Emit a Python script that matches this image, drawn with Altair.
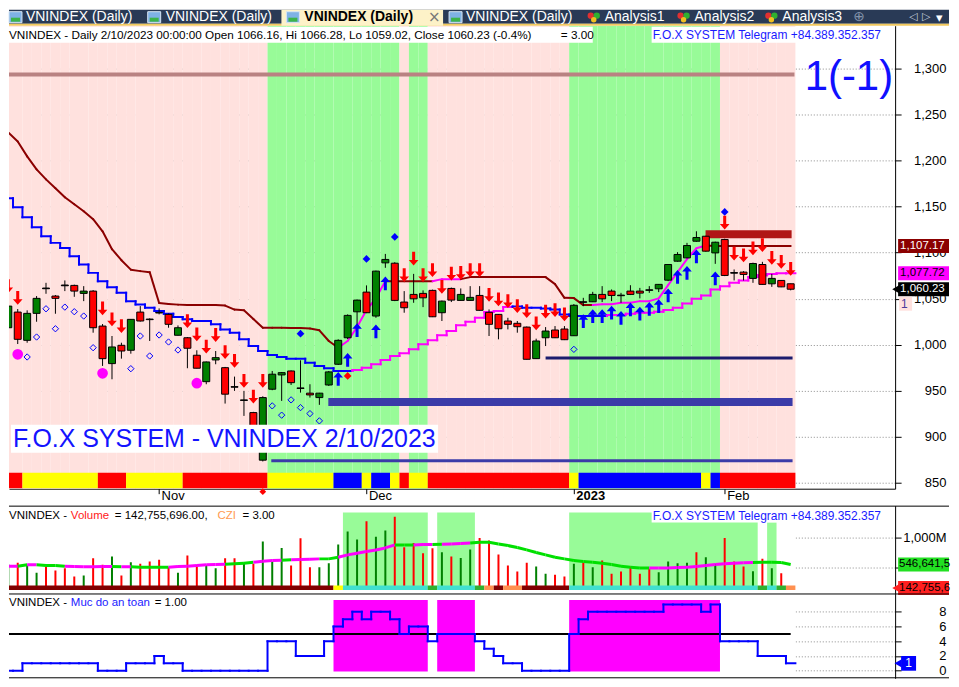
import altair as alt
import pandas as pd

# ------------------------------------------------------------------
# DATA  (VNINDEX daily, 84 sessions: 2022-10-10 ... 2023-02-10)
# ------------------------------------------------------------------
N = 84
bar_index = list(range(N))

price_open = [1018.4, 1035.4, 1004.7, 1034.0, 1061.5, 1052.8, 1064.8, 1064.4, 1055.7, 1058.2,
              1020.2, 979.4, 999.3, 993.9, 1035.4, 1027.8, 1035.0, 1032.9, 1010.2, 1007.5,
              988.5, 959.8, 983.4, 975.0, 954.4, 940.0, 926.2, 874.5, 951.6, 967.1,
              971.4, 953.0, 947.3, 942.5, 956.2, 978.7, 1007.5, 1035.7, 1057.1, 1031.1,
              1088.9, 1088.5, 1046.3, 1054.6, 1055.7, 1059.0, 1034.7, 1061.1, 1048.1, 1048.1,
              1053.5, 1035.1, 1032.9, 1025.7, 1023.2, 1019.1, 984.8, 1007.5, 1015.9, 1017.0,
              1009.7, 1046.6, 1046.6, 1054.6, 1058.2, 1053.8, 1058.2, 1058.2, 1059.6, 1060.7,
              1070.1, 1090.7, 1094.3, 1112.4, 1117.8, 1099.7, 1114.2, 1078.3, 1078.8, 1072.0,
              1087.1, 1066.1, 1069.8, 1066.16]
price_high = [1049.2, 1038.7, 1037.3, 1052.8, 1067.2, 1053.9, 1069.8, 1065.2, 1063.6, 1059.3,
              1022.4, 1009.4, 1002.1, 1027.8, 1041.9, 1028.6, 1039.4, 1033.8, 1020.9, 1008.3,
              993.9, 981.7, 993.1, 975.8, 965.3, 949.8, 927.0, 943.9, 971.4, 970.3,
              972.0, 983.0, 957.0, 947.6, 971.4, 1005.8, 1032.9, 1049.0, 1064.4, 1080.4,
              1098.6, 1089.6, 1058.2, 1076.9, 1059.0, 1059.8, 1047.9, 1062.0, 1061.1, 1063.6,
              1063.6, 1038.3, 1033.2, 1029.2, 1025.7, 1019.7, 1006.5, 1019.1, 1020.2, 1020.2,
              1044.1, 1050.9, 1057.4, 1063.6, 1060.0, 1056.3, 1064.6, 1061.7, 1063.6, 1065.8,
              1087.5, 1100.5, 1110.6, 1123.2, 1118.4, 1111.9, 1115.1, 1081.7, 1079.9, 1089.1,
              1090.0, 1076.9, 1070.1, 1066.28]
price_low = [1013.0, 1000.7, 1002.1, 1024.9, 1055.3, 1033.6, 1058.2, 1052.0, 1047.3, 1013.0,
             976.9, 962.4, 984.8, 990.2, 1025.1, 1004.0, 1032.9, 1018.4, 1010.0, 974.4,
             974.2, 957.0, 978.7, 936.0, 949.8, 922.6, 905.0, 873.1, 950.5, 938.9,
             956.2, 947.9, 942.5, 934.6, 955.1, 977.9, 1006.1, 1021.3, 1034.3, 1029.2,
             1083.5, 1047.3, 1034.7, 1045.5, 1040.8, 1030.0, 1025.7, 1046.3, 1047.9, 1047.9,
             1037.0, 1009.4, 1005.8, 1016.6, 1013.0, 983.9, 984.4, 998.5, 1007.2, 1005.0,
             1009.4, 1041.9, 1046.3, 1046.3, 1047.3, 1045.5, 1053.9, 1050.3, 1056.3, 1057.1,
             1069.0, 1090.2, 1094.0, 1111.9, 1101.0, 1087.8, 1074.5, 1069.8, 1069.8, 1067.2,
             1065.2, 1062.8, 1062.5, 1059.02]
price_close = [1041.9, 1005.8, 1034.0, 1050.3, 1060.8, 1050.3, 1064.0, 1058.2, 1058.2, 1018.4,
               984.8, 997.5, 993.1, 1027.5, 1025.7, 1027.2, 1034.4, 1022.1, 1018.4, 996.1,
               974.4, 981.2, 985.9, 946.2, 953.8, 939.4, 911.9, 942.5, 967.9, 969.6,
               958.7, 952.4, 945.4, 947.3, 970.4, 1004.7, 1031.8, 1048.4, 1034.7, 1079.9,
               1092.6, 1048.1, 1040.1, 1049.8, 1050.9, 1030.3, 1047.3, 1048.4, 1054.6, 1051.4,
               1037.3, 1022.1, 1017.3, 1022.1, 1019.5, 984.1, 1004.0, 1014.8, 1007.5, 1005.4,
               1042.8, 1046.0, 1054.6, 1049.8, 1053.5, 1053.2, 1054.6, 1056.0, 1059.0, 1065.5,
               1087.1, 1098.0, 1107.7, 1116.4, 1101.6, 1111.3, 1075.2, 1077.7, 1076.3, 1088.2,
               1065.5, 1072.0, 1062.8, 1060.23]

month_ticks = [16, 38, 60, 76]
month_labels = ["Nov", "Dec", "2023", "Feb"]

trend_up_zones = [(28, 41), (43, 44), (60, 75)]
signal_runs = [("R", 0, 1), ("Y", 2, 9), ("R", 10, 12), ("Y", 13, 18), ("R", 19, 27),
               ("Y", 28, 34), ("B", 35, 37), ("Y", 38, 38), ("B", 39, 40), ("Y", 41, 41),
               ("R", 42, 42), ("Y", 43, 44), ("R", 45, 59), ("Y", 60, 60), ("B", 61, 73),
               ("Y", 74, 74), ("B", 75, 75), ("R", 76, 83)]

upper_stop = [1230.6, 1220.8, 1204.6, 1190.5, 1179.6, 1169.9, 1160.1, 1152.5, 1144.9, 1136.3,
              1123.2, 1103.7, 1091.8, 1081.5, 1079.9, 1078.8, 1045.2, 1044.1, 1043.5, 1043.0,
              1043.0, 1043.0, 1043.0, 1042.5, 1038.1, 1037.3, 1027.8, 1018.4, 1018.4, 1018.4,
              1018.1, 1018.1, 1017.5, 1015.6, 1004.0, 996.7, 1004.0, 1019.1, 1037.6, 1050.6,
              1069.0, 1069.0, 1069.0, 1069.0, 1069.0, 1069.0, 1071.2, 1071.2, 1071.2, 1073.4,
              1073.4, 1073.4, 1073.4, 1073.4, 1073.4, 1073.4, 1073.4, 1073.4, 1065.8, 1050.9,
              1050.6, 1043.0, 1043.0, 1043.8, 1043.8, 1045.5, 1045.5, 1047.3, 1047.3, 1050.3,
              1064.7, 1078.8, 1092.9, 1104.8, 1107.7, 1107.17, 1107.17, 1107.17, 1107.17, 1107.17,
              1107.17, 1107.17, 1107.17, 1107.17]
upper_up_zones = [(36, 40), (46, 48), (63, 74)]

lower_stop = [1159.0, 1149.3, 1138.4, 1127.6, 1117.8, 1110.6, 1105.1, 1096.1, 1087.1, 1078.0,
              1069.0, 1062.5, 1056.3, 1047.3, 1043.7, 1040.1, 1036.5, 1033.6, 1030.0, 1027.5,
              1025.7, 1025.7, 1022.1, 1016.6, 1013.0, 1005.8, 998.5, 993.1, 988.8, 986.6,
              984.8, 984.8, 980.4, 976.9, 974.4, 971.4, 971.4, 972.5, 975.0, 978.7,
              983.4, 987.7, 990.6, 995.0, 1000.4, 1004.7, 1010.2, 1014.8, 1021.0, 1024.9,
              1029.2, 1035.4, 1036.5, 1040.8, 1041.6, 1040.1, 1040.1, 1039.4, 1038.3, 1032.9,
              1031.1, 1031.1, 1031.1, 1031.1, 1032.2, 1032.2, 1033.6, 1034.7, 1034.7, 1035.8,
              1037.6, 1040.1, 1044.8, 1049.8, 1053.5, 1060.0, 1063.6, 1067.2, 1069.8, 1073.4,
              1075.5, 1076.9, 1077.7, 1077.72]
lower_up_zones = [(37, 53), (64, 83)]

levels = [1293.5, 985.5, 937.8, 873.8]
level_start = [-0.25, 57.0, 33.95, 27.9]
level_end = [83.4, 83.2, 83.2, 83.2]
resist_zone = [1115.6, 1124.3, 73.97, 83.1]

sell_bars = [0, 1, 10, 11, 12, 19, 20, 21, 22, 23, 24, 25, 26, 27,
             42, 43, 44, 45, 46, 47, 48, 49, 50, 51, 52, 53, 54, 55, 56, 57, 58, 59,
             76, 77, 78, 79, 80, 81, 82, 83]
sell_vals = [1063.6, 1050.9, 1039.4, 1027.5, 1020.2, 1025.7, 1011.2, 997.8, 1010.5, 992.0,
             982.3, 960.6, 943.6, 960.6,
             1075.5, 1093.6, 1075.5, 1080.9, 1062.8, 1077.3, 1078.0, 1080.9, 1080.9, 1054.2,
             1049.2, 1047.3, 1041.9, 1036.5, 1023.2, 1035.8, 1037.6, 1032.9,
             1132.7, 1099.0, 1096.9, 1104.5, 1108.1, 1094.3, 1090.0, 1082.4]
buy_bars = [35, 36, 37, 39, 40, 61, 62, 63, 64, 65, 66, 67, 68, 69, 70, 71, 72, 73, 75]
buy_vals = [962.8, 983.4, 1015.9, 1014.5, 1066.5, 1025.7, 1031.1, 1031.1, 1034.7, 1029.2,
            1038.3, 1033.6, 1039.0, 1041.9, 1053.5, 1073.7, 1078.0, 1095.8, 1071.9]
dot_bars = [1, 10, 20]
dot_vals = [989.5, 968.9, 958.1]
hollow_bars = [2, 3, 4, 5, 6, 7, 8, 9, 13, 14, 15, 16, 17, 18, 28, 29, 30, 31, 32, 33, 60]
hollow_vals = [986.6, 1008.3, 1039.0, 1017.3, 1040.8, 1035.8, 1031.1, 996.7, 973.9, 1009.4,
               987.7, 1010.5, 1002.9, 994.2, 933.5, 923.4, 940.0, 931.6, 925.1, 917.2, 994.9]
bdiam_bars = [31, 38, 41, 76]
bdiam_vals = [1011.9, 1093.2, 1117.1, 1144.2]
rdiam_bars = [36]
rdiam_vals = [966.0]

last_values = [1107.17, 1077.72, 1060.23]

volume_m = [545, 574, 540, 403, 511, 443, 483, 341, 358, 653,
            540, 681, 358, 585, 557, 596, 625, 500, 403, 699,
            540, 540, 483, 653, 653, 574, 557, 937, 596, 829,
            528, 994, 500, 500, 568, 886, 1108, 971, 1284, 1022,
            1125, 1363, 840, 914, 738, 824, 756, 681, 659, 801,
            999, 954, 716, 528, 426, 574, 511, 386, 369, 341,
            557, 574, 500, 613, 386, 426, 511, 386, 472, 415,
            596, 568, 574, 756, 670, 560, 999, 596, 511, 432,
            642, 483, 397, 142.76]
volume_up = [1, 0, 1, 1, 0, 0, 0, 0, 1, 0,
             0, 1, 0, 1, 0, 0, 0, 0, 1, 0,
             0, 1, 1, 0, 0, 1, 0, 1, 1, 1,
             0, 0, 0, 1, 1, 1, 1, 1, 0, 1,
             1, 0, 0, 0, 0, 0, 1, 0, 1, 1,
             0, 0, 0, 0, 0, 0, 1, 1, 0, 0,
             1, 0, 1, 0, 0, 0, 0, 0, 0, 1,
             1, 1, 1, 0, 1, 1, 0, 0, 0, 1,
             0, 1, 0, 0]
volume_ma = [517, 517, 540, 540, 528, 528, 517, 511, 506, 506,
             511, 511, 506, 506, 500, 500, 500, 500, 511, 517,
             528, 540, 545, 551, 557, 568, 585, 602, 613, 619,
             625, 630, 636, 642, 642, 670, 710, 738, 767, 795,
             829, 880, 880, 880, 886, 886, 892, 897, 903, 914,
             925, 925, 897, 869, 835, 795, 750, 710, 670, 642,
             613, 596, 585, 568, 545, 517, 500, 488, 488, 488,
             488, 494, 500, 511, 528, 545, 557, 568, 574, 579,
             585, 585, 579, 546.64]
ma_green_runs = [(2, 2), (4, 6), (12, 12), (14, 17), (24, 26), (30, 30), (34, 35),
                 (42, 43), (46, 46), (50, 68), (80, 83)]
vol_strip_runs = [("D", 0, 34), ("Y", 35, 35), ("C", 36, 44), ("G", 45, 45), ("C", 46, 49),
                  ("G", 50, 50), ("O", 51, 51), ("D", 52, 52), ("O", 53, 54), ("D", 55, 59),
                  ("C", 60, 79), ("G", 80, 80), ("C", 81, 81), ("G", 82, 82), ("O", 83, 83)]
vol_zones = [(36, 44), (46, 49), (60, 79), (81, 81)]
vol_zone_top = [1436, 1436, 1436, 1266]
vol_labels = ["546,641,5", "142,755,6"]
vol_label_vals = [546.64, 142.76]

safety = [0, 0, 1, 1, 1, 1, 1, 1, 1, 1,
          0, 0, 0, 1, 1, 1, 2, 1, 1, 0,
          0, 0, 0, 0, 0, 0, 0, 0, 4, 4,
          4, 2, 2, 2, 4, 6, 7, 8, 7, 8,
          8, 7, 5, 6, 6, 4, 5, 5, 5, 5,
          4, 3, 2, 1, 1, 0, 0, 0, 0, 0,
          5, 7, 8, 8, 8, 8, 8, 8, 8, 8,
          9, 9, 9, 9, 8, 9, 4, 4, 4, 4,
          2, 2, 2, 1]
safety_zones = [(35, 44), (46, 49), (60, 75)]
safety_ref = 5

# ------------------------------------------------------------------
# STYLE / LAYOUT
# ------------------------------------------------------------------
FONT = "Liberation Sans"
W = 888
H_TAB, H_PRICE, H_DATE, H_VOL, H_SAFE = 16, 464, 17, 88, 85
RIGHT = 942
C_PINK, C_GREEN = "#ffe1de", "#98fb98"
MAROON, MAGENTA, BLUE, RED, DGREEN = "#8b0000", "#ff00ff", "#0000ff", "#ff0000", "#008000"
level_colors = ["#b98282", "#1c1c6e", "#3b3ba8", "#3b3ba8"]
level_widths = [4, 3, 8, 3]
PANE_FS = 11.5

DOWN = "M-0.22,-1L0.22,-1L0.22,0.2L0.7,0.2L0,1L-0.7,0.2L-0.22,0.2Z"
UP = "M-0.22,1L0.22,1L0.22,-0.2L0.7,-0.2L0,-1L-0.7,-0.2L-0.22,-0.2Z"


def flags(zones, n):
    f = [False] * n
    for a, b in zones:
        for k in range(a, b + 1):
            f[k] = True
    return f


one = pd.DataFrame({"k": [0]})


def txt(text, x, y, size=12, color="black", weight="normal", align="left",
        baseline="middle", font=FONT):
    return alt.Chart(one).mark_text(text=text, align=align, baseline=baseline, fontSize=size,
                                    color=color, fontWeight=weight, font=font).encode(
        x=alt.value(x), y=alt.value(y))


def box(x0, x1, y0, y1, fill, stroke=None):
    kw = dict(fill=fill)
    if stroke:
        kw.update(stroke=stroke, strokeWidth=1)
    return alt.Chart(one).mark_rect(**kw).encode(
        x=alt.value(x0), x2=alt.value(x1), y=alt.value(y0), y2=alt.value(y1))


def hline(y, x0=0, x1=RIGHT, color="black", width=1):
    return alt.Chart(one).mark_rule(color=color, strokeWidth=width).encode(
        x=alt.value(x0), x2=alt.value(x1), y=alt.value(y))


xs = alt.Scale(domain=[0.074, 94.08], nice=False, zero=False)
lab_expr = " : ".join(f"datum.value == {t} ? '{l}'" for t, l in zip(month_ticks, month_labels)) + " : ''"
xaxis_p = alt.Axis(values=month_ticks, labelExpr=lab_expr, title=None, orient="bottom", grid=False,
                   domain=True, domainColor="black", ticks=True, tickSize=5, tickColor="black",
                   labelPadding=-4, labelAlign="left", labelBaseline="top", labelOffset=2,
                   labelFontSize=13, labelColor="black", labelFont=FONT, labelFlush=False,
                   labelOverlap=False,
                   labelFontWeight={"condition": {"test": "datum.value == 60", "value": "bold"},
                                    "value": "normal"})


def right_axis(values, **kw):
    return alt.Axis(orient="right", values=values, title=None, tickSize=6, labelPadding=45,
                    labelAlign="right", labelBaseline="middle", grid=True, gridDash=[1, 2],
                    gridColor="#8c8c8c", domain=True, domainColor="black", tickColor="black",
                    labelColor="black", labelFont=FONT, labelFontSize=13, labelFlush=False, **kw)


ys_p = alt.Scale(domain=[843.5, 1346.6], nice=False, zero=False)
yaxis_p = right_axis(list(range(850, 1301, 50)), format=",d")


def PX(f):
    return alt.X(f"{f}:Q", scale=xs, axis=xaxis_p)


def PY(f):
    return alt.Y(f"{f}:Q", scale=ys_p, axis=yaxis_p)


# ------------------------------------------------------------------
# PRICE PANE
# ------------------------------------------------------------------
P = []
bg_df = pd.DataFrame({"i": bar_index, "up": flags(trend_up_zones, N)})
P.append(alt.Chart(bg_df).transform_calculate(
    x0="datum.i - 0.5", x1="datum.i + 0.5",
    col=f"datum.up ? '{C_GREEN}' : '{C_PINK}'").mark_rect(clip=True).encode(
    x=PX("x0"), x2="x1:Q", y=alt.value(0), y2=alt.value(H_PRICE),
    color=alt.Color("col:N", scale=None)))

sig_df = pd.DataFrame(signal_runs, columns=["code", "a", "b"])
P.append(alt.Chart(sig_df).transform_calculate(
    x0="datum.a - 0.5", x1="datum.b + 0.5",
    col="datum.code == 'R' ? '#ff0000' : (datum.code == 'Y' ? '#ffff00' : '#0000ff')"
).mark_rect(clip=True).encode(
    x=PX("x0"), x2="x1:Q", y=alt.value(448), y2=alt.value(463.5),
    color=alt.Color("col:N", scale=None)))

for v, a, b, c, w in zip(levels, level_start, level_end, level_colors, level_widths):
    P.append(alt.Chart(pd.DataFrame({"v": [v], "a": [a], "b": [b]})).mark_rule(
        color=c, strokeWidth=w, clip=True).encode(x=PX("a"), x2="b:Q", y=PY("v")))

rz = pd.DataFrame({"lo": [resist_zone[0]], "hi": [resist_zone[1]],
                   "a": [resist_zone[2]], "b": [resist_zone[3]]})
P.append(alt.Chart(rz).mark_rect(color="#b01616", clip=True).encode(
    x=PX("a"), x2="b:Q", y=PY("lo"), y2="hi:Q"))

# lower trailing line (staircase)
lu = flags(lower_up_zones, N)
rows = []
for k in range(N):
    rows.append(dict(x0=k - 0.5, x1=k + 0.5, y0=lower_stop[k], y1=lower_stop[k],
                     col=MAGENTA if lu[k] else BLUE))
    if k + 1 < N and lower_stop[k + 1] != lower_stop[k]:
        rows.append(dict(x0=k + 0.5, x1=k + 0.5, y0=lower_stop[k], y1=lower_stop[k + 1],
                         col=MAGENTA if lu[k + 1] else BLUE))
P.append(alt.Chart(pd.DataFrame(rows)).mark_rule(strokeWidth=2, clip=True, strokeCap="square").encode(
    x=PX("x0"), x2="x1:Q", y=PY("y0"), y2="y1:Q", color=alt.Color("col:N", scale=None)))

# upper trailing line
uu = flags(upper_up_zones, N)
rows = [dict(x0=k, x1=k + 1, y0=upper_stop[k], y1=upper_stop[k + 1],
             col=MAGENTA if uu[k + 1] else MAROON) for k in range(N - 1)]
P.append(alt.Chart(pd.DataFrame(rows)).mark_rule(strokeWidth=2, clip=True, strokeCap="round").encode(
    x=PX("x0"), x2="x1:Q", y=PY("y0"), y2="y1:Q", color=alt.Color("col:N", scale=None)))

# candles
cdf = pd.DataFrame({"i": bar_index, "o": price_open, "h": price_high, "l": price_low, "c": price_close})
cbase = alt.Chart(cdf).transform_calculate(
    x0="datum.i - 0.37", x1="datum.i + 0.37",
    col=f"abs(datum.c - datum.o) < 1 ? 'black' : (datum.c > datum.o ? '{DGREEN}' : '{RED}')")
P.append(cbase.mark_rule(color="black", strokeWidth=1, clip=True).encode(
    x=PX("i"), y=PY("l"), y2="h:Q"))
P.append(cbase.mark_rect(stroke="black", strokeWidth=1, clip=True).encode(
    x=PX("x0"), x2="x1:Q", y=PY("o"), y2="c:Q", color=alt.Color("col:N", scale=None)))

# signals
P.append(alt.Chart(pd.DataFrame({"i": hollow_bars, "v": hollow_vals})).mark_point(
    shape="diamond", filled=False, size=40, color=BLUE, strokeWidth=1, opacity=1, clip=True).encode(
    x=PX("i"), y=PY("v")))
P.append(alt.Chart(pd.DataFrame({"i": bdiam_bars, "v": bdiam_vals})).mark_point(
    shape="diamond", filled=True, size=60, color=BLUE, opacity=1, clip=True).encode(
    x=PX("i"), y=PY("v")))
P.append(alt.Chart(pd.DataFrame({"i": rdiam_bars, "v": rdiam_vals})).mark_point(
    shape="diamond", filled=True, size=60, color=RED, opacity=1, clip=True).encode(
    x=PX("i"), y=PY("v")))
P.append(alt.Chart(pd.DataFrame({"i": dot_bars, "v": dot_vals})).mark_circle(
    size=115, color=MAGENTA, opacity=1, clip=True).encode(x=PX("i"), y=PY("v")))
P.append(alt.Chart(pd.DataFrame({"i": sell_bars, "v": sell_vals})).mark_point(
    shape=DOWN, filled=True, size=190, color=RED, opacity=1, strokeWidth=0, clip=True).encode(
    x=PX("i"), y=PY("v")))
P.append(alt.Chart(pd.DataFrame({"i": buy_bars, "v": buy_vals})).mark_point(
    shape=UP, filled=True, size=190, color=BLUE, opacity=1, strokeWidth=0, clip=True).encode(
    x=PX("i"), y=PY("v")))

# texts
P.append(box(0, 585, 1, 17, "white"))
P.append(txt("VNINDEX - Daily 2/10/2023 00:00:00 Open 1066.16, Hi 1066.28, Lo 1059.02, "
             "Close 1060.23 (-0.4%)", 0, 9, size=11.75))
P.append(txt("= 3.00", 553, 9, size=11.75))
P.append(box(644, 875, 1, 17, "white"))
P.append(txt("F.O.X SYSTEM Telegram +84.389.352.357", 645, 9, color="#1a1aff"))
P.append(box(2, 430, 400, 428, "white"))
P.append(txt("F.O.X SYSTEM - VNINDEX 2/10/2023", 4, 414, size=25, color="#1414ff"))
P.append(txt("1(-1)", 886, 64, size=42, color="#1010ff", align="right", baseline="alphabetic"))

# last-value labels on the price axis
lv = pd.DataFrame({"v": last_values})
lv_styles = [("#8b0000", "white"), (MAGENTA, "black"), ("black", "white")]
for k, (bgc, fg) in enumerate(lv_styles):
    d = alt.Chart(lv.iloc[[k]]).transform_calculate(lo="datum.v - 7.6", hi="datum.v + 7.6")
    P.append(d.mark_rect(fill=bgc).encode(x=alt.value(891), x2=alt.value(RIGHT), y=PY("lo"), y2="hi:Q"))
    P.append(d.mark_text(align="left", baseline="middle", fontSize=11.5, font=FONT, color=fg).encode(
        x=alt.value(893), y=PY("v"), text=alt.Text("v:Q", format=",.2f")))
P.append(alt.Chart(lv.iloc[[2]]).mark_point(shape="triangle-left", filled=True, size=80,
                                            color="black", opacity=1).encode(
    x=alt.value(889), y=PY("v")))
one_lbl = pd.DataFrame({"v": [1044.5], "t": ["1"]})
d = alt.Chart(one_lbl).transform_calculate(lo="datum.v - 7.6", hi="datum.v + 7.6")
P.append(d.mark_rect(fill=C_PINK).encode(x=alt.value(892), x2=alt.value(905), y=PY("lo"), y2="hi:Q"))
P.append(d.mark_text(align="left", baseline="middle", fontSize=12, font=FONT, color="#4b3a9a").encode(
    x=alt.value(894), y=PY("v"), text="t:N"))

price = alt.layer(*P).properties(width=W, height=H_PRICE)

# ------------------------------------------------------------------
# TAB BAR
# ------------------------------------------------------------------
T = [box(0, RIGHT, 0, 14, "#293a56"), box(0, RIGHT, 14, 16, "#f2c95e"),
     box(273, 435, 0, 16, "#fdf2c8")]
for ix in [0, 139, 278, 441]:
    T.append(box(ix, ix + 13, 2, 13, "#7fb2e5", stroke="#d8e6f4"))
    T.append(box(ix + 2, ix + 11, 8, 12, "#3cb44b"))
for tx, bold in [(17, False), (157, False), (296, True), (458, False)]:
    T.append(txt("VNINDEX (Daily)", tx, 7.5, size=14, color="black" if bold else "white",
                 weight="bold" if bold else "normal"))
T.append(txt("×", 420, 7, size=15, color="#777777", font="DejaVu Sans"))
for hx, name in [(580, "Analysis1"), (670, "Analysis2"), (758, "Analysis3")]:
    T.append(alt.Chart(one).mark_circle(size=40, color="#e03030", opacity=1).encode(
        x=alt.value(hx + 3), y=alt.value(6)))
    T.append(alt.Chart(one).mark_circle(size=40, color="#30b030", opacity=1).encode(
        x=alt.value(hx + 9), y=alt.value(6)))
    T.append(alt.Chart(one).mark_circle(size=30, color="#f0c020", opacity=1).encode(
        x=alt.value(hx + 6), y=alt.value(10)))
    T.append(txt(name, hx + 17, 7.5, size=14, color="white"))
T.append(txt("⊕", 846, 7, size=14, color="#8494ac", font="DejaVu Sans"))
T.append(txt("◁", 902, 7, size=11, color="#c8d0dc", font="DejaVu Sans"))
T.append(txt("▷", 915, 7, size=11, color="#c8d0dc", font="DejaVu Sans"))
T.append(txt("▾", 929, 8, size=13, color="#ffffff", font="DejaVu Sans"))
tabs = alt.layer(*T).properties(width=W, height=H_TAB)

# ------------------------------------------------------------------
# DATE STRIP
# ------------------------------------------------------------------
datestrip = alt.Chart(pd.DataFrame({"i": [27]})).mark_point(
    shape="diamond", filled=True, size=45, color=RED, opacity=1).encode(
    x=alt.X("i:Q", scale=xs, axis=None), y=alt.value(3)).properties(width=W, height=H_DATE)

# ------------------------------------------------------------------
# VOLUME PANE
# ------------------------------------------------------------------
ys_v = alt.Scale(domain=[51, 1551], nice=False, zero=False)
yaxis_v = right_axis([500, 1000],
                     labelExpr="datum.value == 500 ? '' : format(datum.value, ',') + 'M'")


def VX(f):
    return alt.X(f"{f}:Q", scale=xs, axis=None)


def VY(f):
    return alt.Y(f"{f}:Q", scale=ys_v, axis=yaxis_v)


span = pd.DataFrame({"a": [bar_index[0] - 0.5], "b": [bar_index[-1] + 0.5]})
V = [alt.Chart(span).mark_rect(fill="white", clip=True).encode(
    x=VX("a"), x2="b:Q", y=alt.value(0), y2=alt.value(H_VOL))]
vz = pd.DataFrame({"a": [z[0] for z in vol_zones], "b": [z[1] for z in vol_zones], "top": vol_zone_top})
V.append(alt.Chart(vz).transform_calculate(x0="datum.a - 0.5", x1="datum.b + 0.5", lo="111").mark_rect(
    fill=C_GREEN, clip=True).encode(x=VX("x0"), x2="x1:Q", y=VY("lo"), y2="top:Q"))
vdf = pd.DataFrame({"i": bar_index, "v": volume_m, "up": volume_up})
V.append(alt.Chart(vdf).transform_calculate(
    base="111", col=f"datum.up == 1 ? '{DGREEN}' : '{RED}'").mark_rule(strokeWidth=2, clip=True).encode(
    x=VX("i"), y=VY("base"), y2="v:Q", color=alt.Color("col:N", scale=None)))
mg = flags(ma_green_runs, N)
rows = [dict(x0=k, x1=k + 1, y0=volume_ma[k], y1=volume_ma[k + 1],
             col="#00e000" if mg[k + 1] else MAGENTA) for k in range(N - 1)]
V.append(alt.Chart(pd.DataFrame(rows)).mark_rule(strokeWidth=3, clip=True).encode(
    x=VX("x0"), x2="x1:Q", y=VY("y0"), y2="y1:Q", color=alt.Color("col:N", scale=None)))
vs_df = pd.DataFrame(vol_strip_runs, columns=["code", "a", "b"])
V.append(alt.Chart(vs_df).transform_calculate(
    x0="datum.a - 0.5", x1="datum.b + 0.5", lo="111", hi="187",
    col="datum.code == 'D' ? '#800000' : datum.code == 'Y' ? '#ffff00' : datum.code == 'C' ? "
        "'#40e0d0' : datum.code == 'G' ? '#30b030' : '#ff9050'").mark_rect(clip=True).encode(
    x=VX("x0"), x2="x1:Q", y=VY("lo"), y2="hi:Q", color=alt.Color("col:N", scale=None)))
V.append(txt("VNINDEX -", 0, 10, size=PANE_FS))
V.append(txt("Volume", 62, 10, size=PANE_FS, color="#ff2020"))
V.append(txt("= 142,755,696.00,", 106, 10, size=PANE_FS))
V.append(txt("CZI", 209, 10, size=PANE_FS, color="#ff9a50"))
V.append(txt("= 3.00", 234, 10, size=PANE_FS))
V.append(box(644, 875, 2, 17, "white"))
V.append(txt("F.O.X SYSTEM Telegram +84.389.352.357", 645, 10, color="#1a1aff"))
vl = pd.DataFrame({"v": vol_label_vals, "t": vol_labels})
vl_styles = [("#22e022", "black"), ("#ff2020", "black")]
for k, (bgc, fg) in enumerate(vl_styles):
    d = alt.Chart(vl.iloc[[k]]).transform_calculate(lo="datum.v - 120", hi="datum.v + 120")
    V.append(d.mark_rect(fill=bgc).encode(x=alt.value(891), x2=alt.value(RIGHT), y=VY("lo"), y2="hi:Q"))
    V.append(d.mark_text(align="left", baseline="middle", fontSize=11.5, font=FONT, color=fg).encode(
        x=alt.value(892), y=VY("v"), text="t:N"))
V.append(alt.Chart(vl.iloc[[1]]).mark_point(shape="triangle-left", filled=True, size=80,
                                            color="#ff2020", opacity=1).encode(x=alt.value(889), y=VY("v")))
V.append(hline(0.5))
volume = alt.layer(*V).properties(width=W, height=H_VOL)

# ------------------------------------------------------------------
# SAFETY PANE  ("Muc do an toan")
# ------------------------------------------------------------------
ys_s = alt.Scale(domain=[-1.03, 10.5], nice=False, zero=False)
yaxis_s = right_axis([0, 2, 4, 6, 8], format="d")


def SY(f):
    return alt.Y(f"{f}:Q", scale=ys_s, axis=yaxis_s)


S = [alt.Chart(span).mark_rect(fill="white", clip=True).encode(
    x=VX("a"), x2="b:Q", y=alt.value(0), y2=alt.value(H_SAFE))]
sz = pd.DataFrame({"a": [z[0] for z in safety_zones], "b": [z[1] for z in safety_zones]})
S.append(alt.Chart(sz).transform_calculate(x0="datum.a - 0.5", x1="datum.b + 0.5",
                                           lo="-0.1", hi="9.6").mark_rect(fill=MAGENTA, clip=True).encode(
    x=VX("x0"), x2="x1:Q", y=SY("lo"), y2="hi:Q"))
S.append(alt.Chart(pd.DataFrame({"a": [bar_index[0]], "b": [bar_index[-1]], "v": [safety_ref]})).mark_rule(
    color="black", strokeWidth=2, clip=True).encode(x=VX("a"), x2="b:Q", y=SY("v")))
rows = []
for k in range(N):
    rows.append(dict(x0=k - 0.5, x1=k + 0.5, y0=safety[k], y1=safety[k]))
    if k + 1 < N and safety[k + 1] != safety[k]:
        rows.append(dict(x0=k + 0.5, x1=k + 0.5, y0=safety[k], y1=safety[k + 1]))
S.append(alt.Chart(pd.DataFrame(rows)).mark_rule(color=BLUE, strokeWidth=2, clip=True,
                                                 strokeCap="square").encode(
    x=VX("x0"), x2="x1:Q", y=SY("y0"), y2="y1:Q"))
S.append(txt("VNINDEX -", 0, 10, size=PANE_FS))
S.append(txt("Muc do an toan", 62, 10, size=PANE_FS, color="#1a1aff"))
S.append(txt("= 1.00", 146, 10, size=PANE_FS))
sl = pd.DataFrame({"v": [safety[-1]], "t": ["1"]})
d = alt.Chart(sl).transform_calculate(lo="datum.v - 1", hi="datum.v + 1")
S.append(d.mark_rect(fill=BLUE).encode(x=alt.value(894), x2=alt.value(909), y=SY("lo"), y2="hi:Q"))
S.append(alt.Chart(sl).mark_point(shape="triangle-left", filled=True, size=70, color=BLUE,
                                  opacity=1).encode(x=alt.value(891), y=SY("v")))
S.append(d.mark_text(align="center", baseline="middle", fontSize=12, font=FONT, color="white").encode(
    x=alt.value(901.5), y=SY("v"), text="t:N"))
S.append(hline(0.5))
S.append(hline(H_SAFE - 0.5))
safe = alt.layer(*S).properties(width=W, height=H_SAFE)

chart = alt.vconcat(tabs, price, datestrip, volume, safe, spacing=0, bounds="flush").properties(
    padding=0, background="white").configure_view(stroke="transparent")

chart.save("out.html", embed_options={"renderer": "svg", "actions": False})
